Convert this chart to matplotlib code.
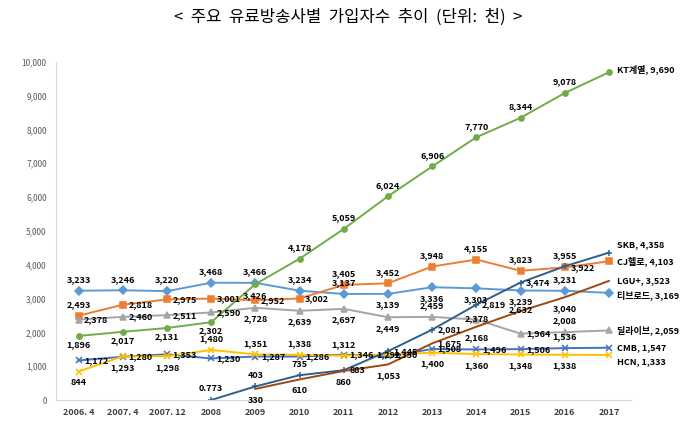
import matplotlib
matplotlib.use("Agg")
import matplotlib.pyplot as plt
from matplotlib.ticker import FuncFormatter

plt.rcParams['font.family'] = ['Liberation Sans Narrow', 'Noto Sans CJK KR', 'DejaVu Sans']

periods = ['2006. 4', '2007. 4', '2007. 12', '2008', '2009', '2010', '2011',
           '2012', '2013', '2014', '2015', '2016', '2017']

# 가입자수 (단위: 천)
tbroad = [3233, 3246, 3220, 3468, 3466, 3234, 3137, 3139, 3336, 3303, 3239, 3231, 3169]
cjhello = [2493, 2818, 2975, 3001, 2952, 3002, 3405, 3452, 3948, 4155, 3823, 3922, 4103]
dlive = [2378, 2460, 2511, 2590, 2728, 2639, 2697, 2449, 2459, 2378, 1964, 2008, 2059]
kt = [1896, 2017, 2131, 2302, 3426, 4178, 5059, 6024, 6906, 7770, 8344, 9078, 9690]
cmb = [1172, 1280, 1353, 1230, 1287, 1286, 1346, 1292, 1508, 1496, 1506, 1536, 1547]
hcn = [844, 1293, 1298, 1480, 1351, 1338, 1312, 1350, 1400, 1360, 1348, 1338, 1333]
skb = [None, None, None, 0.773, 403, 735, 883, 1445, 2081, 2819, 3474, 3955, 4358]
lgu = [None, None, None, None, 330, 610, 860, 1053, 1675, 2168, 2632, 3040, 3523]

# name, values, colour, marker, label placement per point (a=above, b=below, d=just below,
# r=right, c=on point, e=series name at line end), vertical nudge of the end label in points
series = [
    ('티브로드', tbroad, '#5B9BD5', 'D', 'aaaaaaabbbbae', -2),
    ('CJ헬로', cjhello, '#ED7D31', 's', 'arrrrraaaaare', 0),
    ('딜라이브', dlive, '#A5A5A5', '^', 'rrrrbbbbacrae', 0),
    ('KT계열', kt, '#70AD47', 'o', 'ddddbaaaaaaae', 2),
    ('CMB', cmb, '#4472C4', 'x', 'rrrrrrrcrrrae', 0),
    ('HCN', hcn, '#FFC000', 'x', 'bbbaaaarbbbbe', -5),
    ('SKB', skb, '#2E5F8F', '+', '---aaarrrrrae', 6),
    ('LGU+', lgu, '#9E480E', '', '----bbbbrbcbe', 0),
]

offsets = {'a': (0, 8, 'center'), 'b': (0, -8, 'center'), 'd': (0, -6, 'center'),
           'r': (4, 0, 'left'), 'c': (0, 1, 'center')}

fig = plt.figure(figsize=(6.8, 4.48), dpi=100)
ax = fig.add_axes([0.083, 0.107, 0.845, 0.755])

for name, vals, color, marker, place, end_dy in series:
    xs = [i for i, v in enumerate(vals) if v is not None]
    ys = [v for v in vals if v is not None]
    ax.plot(xs, ys, color=color, lw=1.4, marker=marker if marker else None,
            ms=3.8 if marker in ('D', 's', 'o', '^') else 5, mew=1.1)
    for x, y in zip(xs, ys):
        p = place[x]
        if p == 'e':
            ax.annotate(f'{name}, {y:,}', (x, y), xytext=(6, end_dy), textcoords='offset points',
                        ha='left', va='center', fontsize=6.5, fontweight='bold',
                        annotation_clip=False)
            continue
        dx, dy, ha = offsets[p]
        txt = '0.773' if y < 1 else f'{y:,}'
        ax.annotate(txt, (x, y), xytext=(dx, dy), textcoords='offset points',
                    ha=ha, va='center', fontsize=6.5, fontweight='bold')

ax.set_xlim(-0.5, 12.5)
ax.set_ylim(0, 10000)
ax.set_yticks(range(0, 10001, 1000))
ax.yaxis.set_major_formatter(FuncFormatter(lambda v, _: f'{int(v):,}'))
ax.set_xticks(range(len(periods)))
ax.set_xticklabels(periods, fontsize=6.5, fontweight='bold', color='#404040',
                   family=['Noto Sans CJK KR'])
ax.tick_params(axis='y', labelsize=6, colors='#595959', length=0, pad=7)
ax.tick_params(axis='x', length=0, pad=6)
for s in ('top', 'right'):
    ax.spines[s].set_visible(False)
ax.spines['left'].set_color('#D9D9D9')
ax.spines['bottom'].set_color('#D9D9D9')

fig.text(0.512, 0.962, '<  주요  유료방송사별  가입자수  추이  (단위:  천)  >', ha='center', va='center',
         fontsize=12, family=['Noto Sans CJK KR'])

fig.savefig('out.png', dpi=100)
